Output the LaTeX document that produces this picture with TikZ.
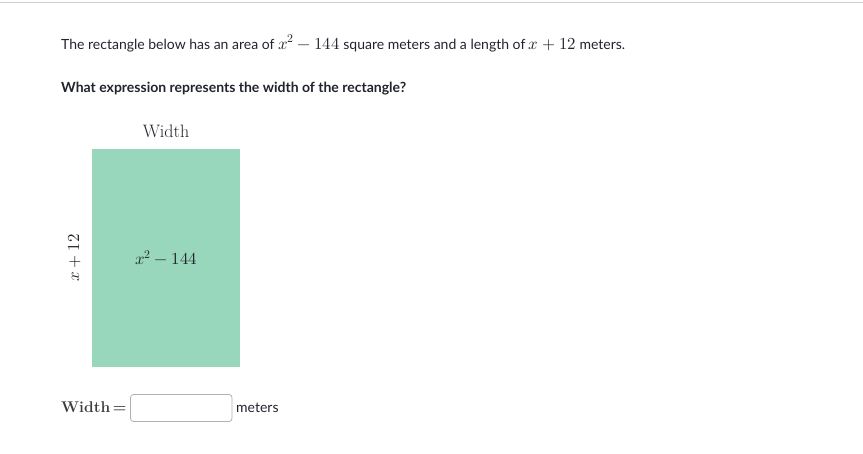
\documentclass[tikz,border=0pt]{standalone}
\usepackage{fontspec}
\setmainfont{Lato}
\usepackage{unicode-math}
\setmathfont[Scale=1.2]{Latin Modern Math}
\definecolor{txt}{HTML}{21242C}
\definecolor{weqtxt}{RGB}{60,60,60}
\definecolor{rectgreen}{RGB}{152,215,188}
\definecolor{rule}{RGB}{205,207,205}
\definecolor{boxborder}{RGB}{175,177,180}
\newfontfamily\lmserif{Latin Modern Roman}
\tikzset{
  sans/.style={font=\fontsize{14}{16}\selectfont, text=txt, inner sep=0pt, anchor=base west},
  lm/.style={font=\fontsize{14}{16}\selectfont, text=txt, inner sep=0pt}
}
\begin{document}
\begin{tikzpicture}[x=1pt,y=-1pt]
\useasboundingbox (0,0) rectangle (863,453);
\draw[rule, line width=1.5pt] (0,2.5) -- (863,2.5);
\node[sans] (q1) at (61,49) {The rectangle below has an area of $x^2-144$ square meters and a length of $x+12$ meters.};
\node[sans, font=\bfseries\fontsize{14}{16}\selectfont] (q2) at (61,92) {What expression represents the width of the rectangle?};
\node[lm, anchor=base, font=\lmserif\fontsize{18}{20}\selectfont] (wlabel) at (166,137) {Width};
\fill[rectgreen] (92,149) rectangle (240,367);
\node[lm] (area) at (166,258) {$x^2-144$};
\node[lm, rotate=90] (len) at (75,258) {$x+12$};
\node[lm, anchor=base west, text=weqtxt, font=\lmserif\bfseries\fontsize{15.5}{18}\selectfont] (weq) at (61,412) {Width\,=};
\draw[boxborder, line width=0.8pt, rounded corners=3pt] (130.5,394.5) rectangle (232,421.5);
\node[sans] (m) at (236,412) {meters};
\end{tikzpicture}
\end{document}
